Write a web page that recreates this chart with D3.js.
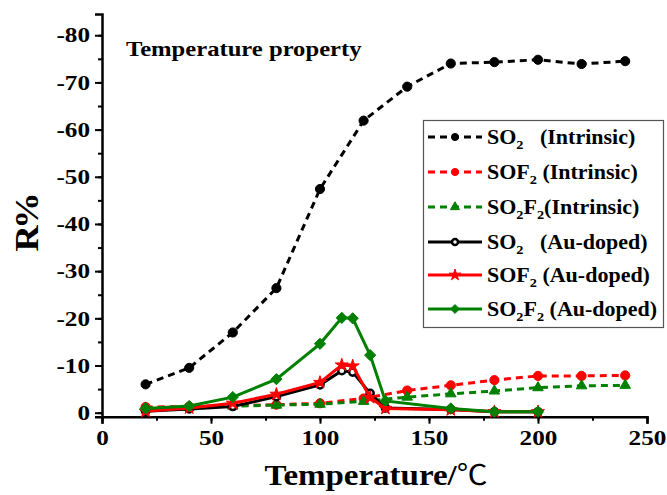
<!DOCTYPE html>
<html>
<head>
<meta charset="utf-8">
<script src="https://cdn.jsdelivr.net/npm/d3@7"></script>
<style>
  body { margin: 0; background: #fff; }
  text { font-family: "Liberation Serif", "Times New Roman", serif; font-weight: bold; }
</style>
</head>
<body>
<div id="chart"></div>
<script>
// data
const tempsIntrinsic = [20, 40, 60, 80, 100, 120, 140, 160, 180, 200, 220, 240];
const so2Intrinsic   = [-6.0, -9.5, -17.0, -26.4, -47.4, -61.9, -69.1, -74.0, -74.3, -74.8, -73.9, -74.5];
const sof2Intrinsic  = [-1.2, -1.3, -1.5, -1.7, -2.0, -3.0, -4.7, -5.8, -6.9, -7.8, -7.8, -7.9];
const so2f2Intrinsic = [-1.0, -1.2, -1.4, -1.6, -1.8, -2.4, -3.3, -4.0, -4.6, -5.3, -5.7, -5.8];

const tempsAu = [20, 40, 60, 80, 100, 110, 115, 123, 130, 160, 180, 200];
const so2Au   = [-0.3, -0.8, -1.3, -3.4, -5.9, -8.9, -8.6, -4.1, -1.0, -0.7, -0.2, -0.2];
const sof2Au  = [-0.3, -1.0, -2.0, -3.9, -6.4, -10.1, -9.9, -3.2, -0.9, -0.6, -0.2, -0.2];
const so2f2Au = [-0.9, -1.4, -3.3, -7.1, -14.6, -20.1, -20.0, -12.2, -2.5, -0.9, -0.2, -0.2];

const xTicks = [0, 50, 100, 150, 200, 250];
const yTicks = [0, -10, -20, -30, -40, -50, -60, -70, -80];

// label pieces: [text, isSubscript]
const series = [
  { label: [["SO", 0], ["2", 1], ["   (Intrinsic)", 0]], t: tempsIntrinsic, v: so2Intrinsic, color: "#000000", dashed: true, marker: "circle" },
  { label: [["SOF", 0], ["2", 1], [" (Intrinsic)", 0]], t: tempsIntrinsic, v: sof2Intrinsic, color: "#ff0000", dashed: true, marker: "circle" },
  { label: [["SO", 0], ["2", 1], ["F", 0], ["2", 1], ["(Intrinsic)", 0]], t: tempsIntrinsic, v: so2f2Intrinsic, color: "#008000", dashed: true, marker: "triangle" },
  { label: [["SO", 0], ["2", 1], ["   (Au-doped)", 0]], t: tempsAu, v: so2Au, color: "#000000", dashed: false, marker: "open" },
  { label: [["SOF", 0], ["2", 1], [" (Au-doped)", 0]], t: tempsAu, v: sof2Au, color: "#ff0000", dashed: false, marker: "star" },
  { label: [["SO", 0], ["2", 1], ["F", 0], ["2", 1], [" (Au-doped)", 0]], t: tempsAu, v: so2f2Au, color: "#008000", dashed: false, marker: "diamond" }
];

const width = 667, height = 495;
const stretch = 1.2; // the figure's lettering is wider than Times

const svg = d3.select('#chart')
  .append('svg')
  .attr('width', width)
  .attr('height', height);

const x = d3.scaleLinear().domain([0, 250]).range([102, 647]);
const y = d3.scaleLinear().domain([0.85, -84.5]).range([416.7, 14]);

// axes
const xAxis = svg.append('g')
  .attr('transform', `translate(0,${y.range()[0]})`)
  .call(d3.axisBottom(x).tickValues(d3.range(0, 251, 25)).tickSize(4).tickFormat(''));
xAxis.append('g')
  .call(d3.axisBottom(x).tickValues(xTicks).tickSize(7).tickPadding(6).tickFormat(d => String(d)));

const yAxis = svg.append('g')
  .attr('transform', `translate(${x.range()[0]},0)`)
  .call(d3.axisLeft(y).tickValues(d3.range(0, -81, -5)).tickSize(4).tickFormat(''));
yAxis.append('g')
  .call(d3.axisLeft(y).tickValues(yTicks).tickSize(7).tickPadding(5).tickFormat(d => String(d)));

svg.selectAll('.domain').attr('stroke', '#000').attr('stroke-width', 2.5);
svg.selectAll('.tick line').attr('stroke', '#000').attr('stroke-width', 2);
svg.selectAll('.tick text')
  .attr('font-size', '21px')
  .attr('font-family', '"Liberation Serif", serif')
  .attr('font-weight', 'bold')
  .attr('fill', '#000');
xAxis.selectAll('.tick text').attr('transform', `scale(${stretch},1)`);
yAxis.selectAll('.tick text')
  .attr('x', -12 / stretch)
  .attr('transform', `scale(${stretch},1)`);
xAxis.select('g .domain').remove();
yAxis.select('g .domain').remove();

// lines and markers
const line = d3.line()
  .x(d => x(d[0]))
  .y(d => y(d[1]));

const symbolFor = {
  circle: d3.symbol().type(d3.symbolCircle).size(66),
  triangle: d3.symbol().type(d3.symbolTriangle).size(48),
  open: d3.symbol().type(d3.symbolCircle).size(40),
  star: d3.symbol().type(d3.symbolStar).size(52),
  diamond: d3.symbol().type(d3.symbolDiamond2).size(80)
};
const legendSymbol = {
  circle: d3.symbol().type(d3.symbolCircle).size(40),
  triangle: d3.symbol().type(d3.symbolTriangle).size(36),
  open: d3.symbol().type(d3.symbolCircle).size(28),
  star: d3.symbol().type(d3.symbolStar).size(40),
  diamond: d3.symbol().type(d3.symbolDiamond2).size(50)
};

series.forEach(s => {
  const pts = s.t.map((t, i) => [t, s.v[i]]);
  svg.append('path')
    .datum(pts)
    .attr('fill', 'none')
    .attr('stroke', s.color)
    .attr('stroke-width', 3)
    .attr('stroke-dasharray', s.dashed ? '7,5' : null)
    .attr('d', line);

  svg.append('g')
    .selectAll('path')
    .data(pts)
    .join('path')
      .attr('transform', d => `translate(${x(d[0])},${y(d[1])})`)
      .attr('d', symbolFor[s.marker])
      .attr('fill', s.marker === 'open' ? '#fff' : s.color)
      .attr('stroke', s.color)
      .attr('stroke-width', s.marker === 'open' ? 2.5 : 1);
});

// title
svg.append('text')
  .attr('transform', 'translate(126,56) scale(1.12,1)')
  .attr('font-size', '22px')
  .text('Temperature property');

// axis labels
const xLabel = svg.append('text')
  .attr('transform', 'translate(376,485) scale(1.1,1)')
  .attr('text-anchor', 'middle')
  .attr('font-size', '30px');
xLabel.append('tspan').text('Temperature/');
xLabel.append('tspan')
  .attr('font-family', '"Noto Sans CJK SC", sans-serif')
  .attr('font-weight', 'normal')
  .attr('font-size', '28px')
  .text('℃');

const yLabel = svg.append('text')
  .attr('transform', 'translate(38,222) rotate(-90) scale(1.1,1)')
  .attr('text-anchor', 'middle')
  .attr('font-size', '33px');
yLabel.append('tspan').text('R');
yLabel.append('tspan').attr('dx', -3).text('%');

// legend
const legend = svg.append('g');
legend.append('rect')
  .attr('x', 423.5)
  .attr('y', 120.5)
  .attr('width', 240)
  .attr('height', 207)
  .attr('fill', '#fff')
  .attr('stroke', '#555')
  .attr('stroke-width', 1.2);

const rowY = [137, 172, 207, 242, 275, 309];
series.forEach((s, i) => {
  const g = legend.append('g').attr('transform', `translate(0,${rowY[i]})`);
  g.append('line')
    .attr('x1', 428).attr('x2', 482)
    .attr('stroke', s.color)
    .attr('stroke-width', 3)
    .attr('stroke-dasharray', s.dashed ? '7,5' : null);
  g.append('path')
    .attr('transform', 'translate(455,0)')
    .attr('d', legendSymbol[s.marker])
    .attr('fill', s.marker === 'open' ? '#fff' : s.color)
    .attr('stroke', s.color)
    .attr('stroke-width', s.marker === 'open' ? 2.5 : 1);
  const t = g.append('text')
    .attr('transform', 'translate(487,7) scale(1.1,1)')
    .attr('font-size', '20px')
    .attr('xml:space', 'preserve')
    .style('white-space', 'pre');
  let shifted = false;
  s.label.forEach(([str, sub]) => {
    const span = t.append('tspan').text(str);
    if (sub) {
      span.attr('font-size', '13px').attr('dy', 5);
      shifted = true;
    } else if (shifted) {
      span.attr('dy', -5);
      shifted = false;
    }
  });
});
</script>
</body>
</html>
